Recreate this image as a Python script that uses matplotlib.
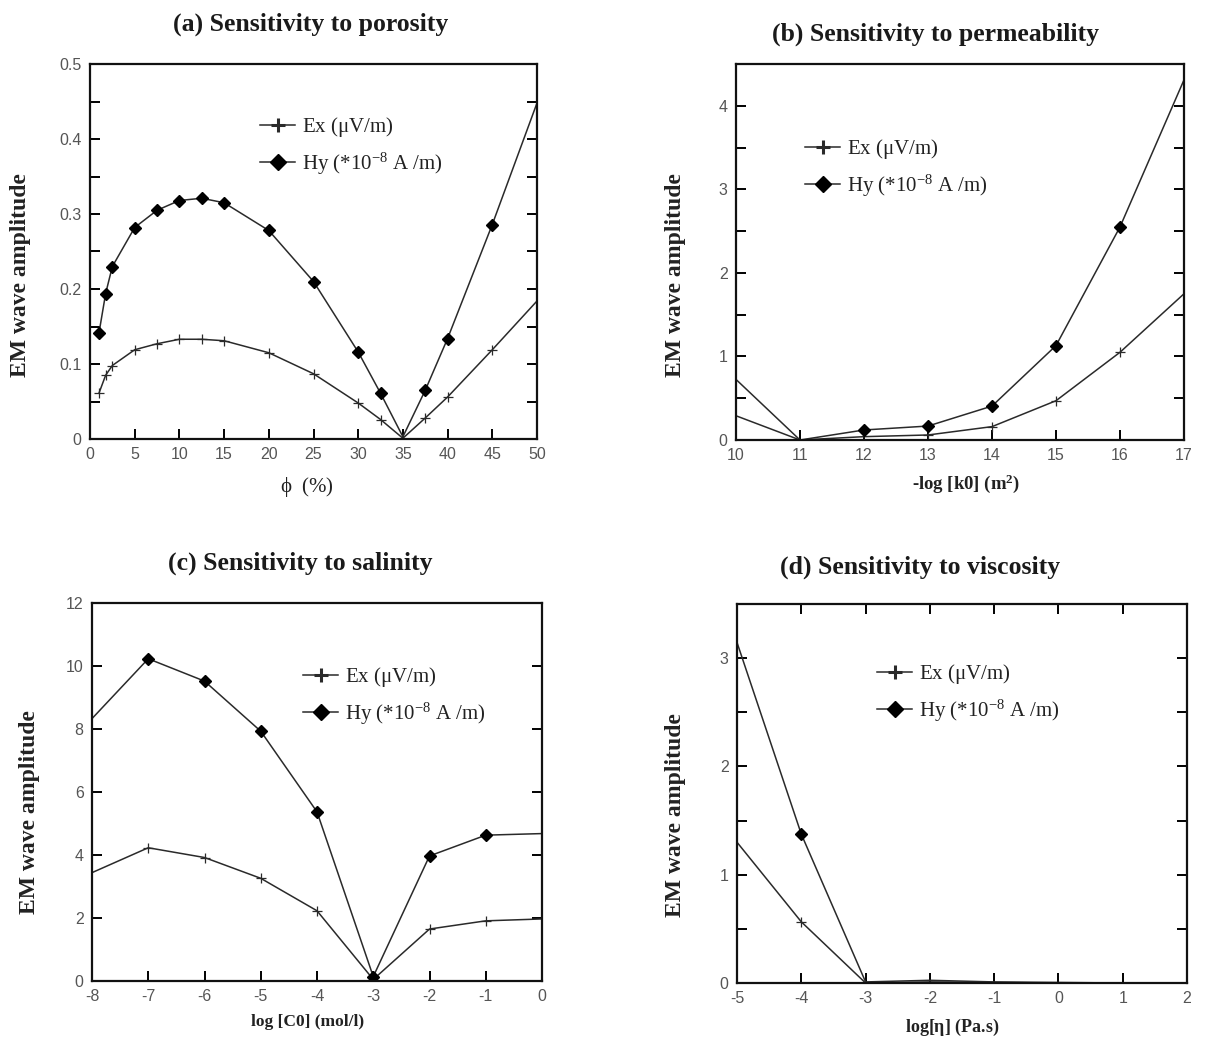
import matplotlib
matplotlib.use("Agg")
import matplotlib.pyplot as plt
from matplotlib.ticker import MultipleLocator, FuncFormatter

plt.rcParams['axes.unicode_minus'] = False
plt.rcParams['mathtext.fontset'] = 'custom'
plt.rcParams['mathtext.rm'] = 'Liberation Serif'
plt.rcParams['mathtext.it'] = 'Liberation Serif:italic'
plt.rcParams['mathtext.bf'] = 'Liberation Serif:bold'

# ---------------- data ----------------
phi = [1, 1.75, 2.5, 5, 7.5, 10, 12.5, 15, 20, 25, 30, 32.5, 35, 37.5, 40, 45, 50]
phi_ex = [0.061, 0.085, 0.098, 0.119, 0.127, 0.133, 0.133, 0.131, 0.115, 0.087,
          0.048, 0.026, 0.001, 0.028, 0.056, 0.119, 0.184]
phi_hy = [0.141, 0.194, 0.230, 0.282, 0.305, 0.318, 0.321, 0.315, 0.278, 0.210,
          0.116, 0.061, 0.003, 0.065, 0.134, 0.286, 0.448]

perm = [10, 11, 12, 13, 14, 15, 16, 17]
perm_ex = [0.29, 0.0, 0.04, 0.06, 0.16, 0.47, 1.05, 1.75]
perm_hy = [0.725, 0.0, 0.12, 0.167, 0.406, 1.13, 2.55, 4.31]

sal = [-8, -7, -6, -5, -4, -3, -2, -1, 0]
sal_ex = [3.44, 4.23, 3.92, 3.26, 2.23, 0.05, 1.65, 1.91, 1.97]
sal_hy = [8.33, 10.23, 9.52, 7.93, 5.37, 0.14, 3.97, 4.63, 4.68]

visc = [-5, -4, -3, -2, -1, 0, 1, 2]
visc_ex = [1.30, 0.565, 0.0, 0.01, 0.005, 0.0, 0.0, 0.0]
visc_hy = [3.145, 1.375, 0.01, 0.025, 0.01, 0.005, 0.0, 0.0]

titles = ["(a) Sensitivity to porosity", "(b) Sensitivity to permeability",
          "(c) Sensitivity to salinity", "(d) Sensitivity to viscosity"]
xlabels = [r"$\mathrm{\phi}$  (%)", r"-log [k0] (m$^{\mathbf{2}}$)",
           "log [C0] (mol/l)", r"log[$\mathbf{\eta}$] (Pa.s)"]
ylabel = "EM wave amplitude"
leg_labels = [r"Ex ($\mathrm{\mu}$V/m)", r"Hy (*10$^{-8}$ A /m)"]

# ---------------- layout ----------------
W, H = 1207, 1037
fig = plt.figure(figsize=(W / 100, H / 100), dpi=100)

SERIF = "Liberation Serif"
SANS = "Liberation Sans"
LC = "#2a2a2a"
TC = "#555555"

panels = [
    dict(x=phi, ex=phi_ex, hy=phi_hy, rect=(90, 64, 537, 439), xlim=(0, 50), ylim=(0, 0.5),
         xt=5, yt=0.05, ylab=0.1, title_xy=(311, 24), xl_xy=(307, 487), xl_fs=15, xl_w='normal',
         yl_xy=(20, 275), leg=(0.38, 0.864), top=False),
    dict(x=perm, ex=perm_ex, hy=perm_hy, rect=(736, 64, 1184, 440), xlim=(10, 17), ylim=(0, 4.5),
         xt=1, yt=0.5, ylab=1, title_xy=(935, 34), xl_xy=(966, 484), xl_fs=13.5, xl_w='bold',
         yl_xy=(675, 275), leg=(0.154, 0.806), top=False),
    dict(x=sal, ex=sal_ex, hy=sal_hy, rect=(92, 603, 542, 981), xlim=(-8, 0), ylim=(0, 12),
         xt=1, yt=2, ylab=2, title_xy=(300, 563), xl_xy=(308, 1022), xl_fs=12.5, xl_w='bold',
         yl_xy=(30, 812), leg=(0.469, 0.836), top=False),
    dict(x=visc, ex=visc_ex, hy=visc_hy, rect=(737, 604, 1187, 983), xlim=(-5, 2), ylim=(0, 3.5),
         xt=1, yt=0.5, ylab=1, title_xy=(920, 567), xl_xy=(952, 1027), xl_fs=13, xl_w='bold',
         yl_xy=(675, 815), leg=(0.311, 0.847), top=True),
]


def fmt_factory(step):
    def f(v, pos):
        r = round(v / step)
        if abs(v - r * step) > 1e-6:
            return ""
        if abs(v) < 1e-9:
            return "0"
        return ("%g" % round(v, 6))
    return FuncFormatter(f)


for i, p in enumerate(panels):
    l, t, r, b = p["rect"]
    ax = fig.add_axes([l / W, 1 - b / H, (r - l) / W, (b - t) / H])
    xmin, xmax = p["xlim"]
    ymin, ymax = p["ylim"]
    xs = p["x"]

    def mk(ys):
        return [j for j, (xx, yy) in enumerate(zip(xs, ys))
                if xmin < xx < xmax and yy > 0.01 * ymax]

    ax.plot(xs, p["ex"], color=LC, lw=1.1, marker="+", ms=7, mew=0.9,
            markevery=mk(p["ex"]), label=leg_labels[0])
    ax.plot(xs, p["hy"], color=LC, lw=1.1, marker="D", ms=6, mfc="black", mec="black",
            markevery=mk(p["hy"]), label=leg_labels[1])
    ax.set_xlim(xmin, xmax)
    ax.set_ylim(ymin, ymax)
    ax.xaxis.set_major_locator(MultipleLocator(p["xt"]))
    ax.yaxis.set_major_locator(MultipleLocator(p["yt"]))
    ax.yaxis.set_major_formatter(fmt_factory(p["ylab"]))
    ax.xaxis.set_major_formatter(FuncFormatter(lambda v, pos: "%g" % v))
    ax.tick_params(direction="in", length=7, width=1.4, colors="black",
                   labelcolor=TC, labelsize=11.5, top=p["top"], right=True, pad=6)
    for lab in ax.get_xticklabels() + ax.get_yticklabels():
        lab.set_fontfamily(SANS)
    for s in ax.spines.values():
        s.set_linewidth(1.6)
        s.set_color("#111111")

    # title
    tx, ty = p["title_xy"]
    fig.text(tx / W, 1 - ty / H, titles[i], ha="center", va="center",
             fontsize=18.5, fontweight="bold", family=SERIF, color="#1a1a1a")
    # axis labels
    xx, xy = p["xl_xy"]
    ax.set_xlabel(xlabels[i], fontsize=p["xl_fs"], fontweight=p["xl_w"], family=SERIF,
                  color="#222222", va="center", ha="center")
    ax.xaxis.set_label_coords((xx - l) / (r - l), (b - xy) / (b - t))
    yx, yy = p["yl_xy"]
    ax.set_ylabel(ylabel, fontsize=17, fontweight="bold", family=SERIF,
                  color="#222222", va="center", ha="center")
    ax.yaxis.set_label_coords((yx - l) / (r - l), (b - yy) / (b - t))

    leg = ax.legend(loc="upper left", bbox_to_anchor=p["leg"], frameon=False,
                    borderpad=0, borderaxespad=0, handlelength=1.7, handletextpad=0.3,
                    labelspacing=0.55, prop=dict(family=SERIF, size=15))
    for h in leg.legend_handles:
        h.set_color(LC)
    leg.legend_handles[0].set_markeredgewidth(2.2)
    leg.legend_handles[0].set_markersize(10)
    leg.legend_handles[1].set_markersize(8)
    for txt in leg.get_texts():
        txt.set_color("#222222")

fig.savefig("out.png", dpi=100, facecolor="white")
